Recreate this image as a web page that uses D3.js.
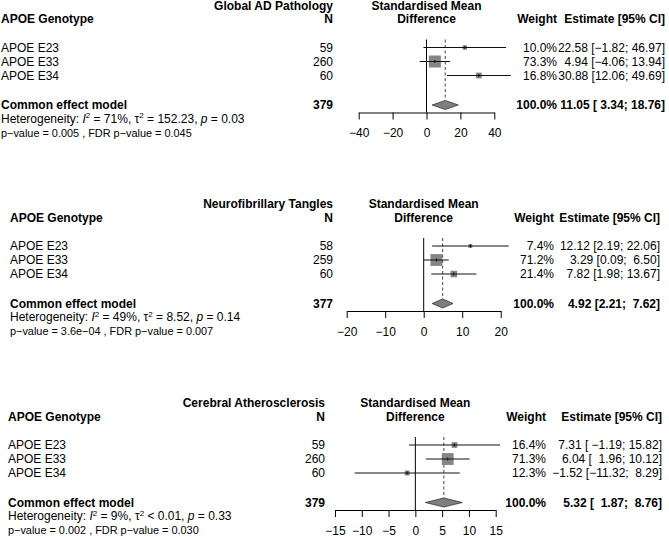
<!DOCTYPE html>
<html><head><meta charset="utf-8">
<script src="https://cdn.jsdelivr.net/npm/d3@7"></script>
<style>
body{margin:0;background:#fff}
text{font-family:"Liberation Sans",Arial,Helvetica,sans-serif;white-space:pre;fill:#000}
</style>
</head><body>
<svg id="chart" width="669" height="537"></svg>
<script>
// ---------- data ----------
const outcomes = ["Global AD Pathology", "Neurofibrillary Tangles", "Cerebral Atherosclerosis"];
const genotypes = ["APOE E23", "APOE E33", "APOE E34"];
const sampleN = [[59, 260, 60], [58, 259, 60], [59, 260, 60]];
const totalN = [379, 377, 379];
const smd = [[22.58, 4.94, 30.88], [12.12, 3.29, 7.82], [7.31, 6.04, -1.52]];
const ciLower = [[-1.82, -4.06, 12.06], [2.19, 0.09, 1.98], [-1.19, 1.96, -11.32]];
const ciUpper = [[46.97, 13.94, 49.69], [22.06, 6.50, 13.67], [15.82, 10.12, 8.29]];
const weights = [[10.0, 73.3, 16.8], [7.4, 71.2, 21.4], [16.4, 71.3, 12.3]];
const pooledSmd = [11.05, 4.92, 5.32];
const pooledLower = [3.34, 2.21, 1.87];
const pooledUpper = [18.76, 7.62, 8.76];
const hetI2 = ["71%", "49%", "9%"];
const hetTau2 = ["= 152.23", "= 8.52", "< 0.01"];
const hetP = ["0.03", "0.14", "0.33"];
const pValues = ["0.005", "3.6e\u221204", "0.002"];
const fdrValues = ["0.045", "0.007", "0.030"];
const tickValues = [[-40, -20, 0, 20, 40], [-20, -10, 0, 10, 20], [-15, -10, -5, 0, 5, 10, 15]];

// ---------- layout (positions only) ----------
const layout = [
  {labelX: 1, nX: 333, weightX: 557, estX: 665, x0: 358.7, x1: 494.3, row0: 51.5},
  {labelX: 10, nX: 333, weightX: 554, estX: 660, x0: 346.7, x1: 500.7, row0: 250},
  {labelX: 8, nX: 325, weightX: 546, estX: 662, x0: 335, x1: 495.7, row0: 449}
];
const FS = 12, FS_HET = 12, FS_P = 10.9, ROW = 14;

const svg = d3.select("#chart");
svg.append("rect").attr("width", 669).attr("height", 537).attr("fill", "#fff");

const fmt = v => (v < 0 ? "\u2212" : "") + Math.abs(v).toFixed(2);
const pad = (s, w) => " ".repeat(Math.max(0, w - s.length)) + s;
const boxSize = d3.scaleSqrt().domain([0, 100]).range([0, 14]);

outcomes.forEach((title, p) => {
  const L = layout[p];
  const g = svg.append("g");
  const ticks = tickValues[p];
  const x = d3.scaleLinear().domain([d3.min(ticks), d3.max(ticks)]).range([L.x0, L.x1]);
  const r0 = L.row0;
  const rowsY = genotypes.map((_, i) => r0 + i * ROW);
  const commonY = r0 + 57.5;
  const axisY = r0 + 61;
  const titleY = r0 - 42, headY = r0 - 28.5;
  const midX = (L.x0 + L.x1) / 2;

  const txt = (str, xx, yy, anchor, isBold, size) => {
    const t = g.append("text").attr("x", xx).attr("y", yy)
      .attr("text-anchor", anchor || "start")
      .attr("font-size", size || FS).text(str);
    if (isBold) t.attr("font-weight", "bold");
    return t;
  };

  // headers
  txt(title, L.nX, titleY, "end", true);
  txt("APOE Genotype", L.labelX, headY, "start", true);
  txt("N", L.nX, headY, "end", true);
  txt("Standardised Mean", midX, titleY, "middle", true);
  txt("Difference", midX, headY, "middle", true);
  txt("Weight", L.weightX, headY, "end", true);
  txt("Estimate [95% CI]", L.estX, headY, "end", true);

  // estimate strings
  const allE = smd[p].concat([pooledSmd[p]]).map(fmt);
  const allLo = ciLower[p].concat([pooledLower[p]]).map(fmt);
  const allHi = ciUpper[p].concat([pooledUpper[p]]).map(fmt);
  const wE = d3.max(allE, s => s.length), wLo = d3.max(allLo, s => s.length), wHi = d3.max(allHi, s => s.length);
  const estStr = i => pad(allE[i], wE) + " [" + pad(allLo[i], wLo) + "; " + pad(allHi[i], wHi) + "]";

  // study rows text
  genotypes.forEach((name, i) => {
    txt(name, L.labelX, rowsY[i], "start", false);
    txt(String(sampleN[p][i]), L.nX, rowsY[i], "end", false);
    txt(weights[p][i].toFixed(1) + "%", L.weightX, rowsY[i], "end", false);
    txt(estStr(i), L.estX, rowsY[i], "end", false);
  });
  // common effect row
  txt("Common effect model", L.labelX, commonY, "start", true);
  txt(String(totalN[p]), L.nX, commonY, "end", true);
  txt("100.0%", L.weightX, commonY, "end", true);
  txt(estStr(3), L.estX, commonY, "end", true);

  // heterogeneity
  const het = g.append("text").attr("x", L.labelX).attr("y", r0 + 71).attr("font-size", FS_HET);
  het.append("tspan").text("Heterogeneity: ");
  het.append("tspan").attr("font-style", "italic").text("I");
  het.append("tspan").attr("font-size", 8).attr("dy", -4.5).text("2");
  het.append("tspan").attr("dy", 4.5).text(" = " + hetI2[p] + ", ");
  het.append("tspan").text("\u03c4");
  het.append("tspan").attr("font-size", 8).attr("dy", -4.5).text("2");
  het.append("tspan").attr("dy", 4.5).text(" " + hetTau2[p] + ", ");
  het.append("tspan").attr("font-style", "italic").text("p");
  het.append("tspan").text(" = " + hetP[p]);
  txt("p\u2212value = " + pValues[p] + " , FDR p\u2212value = " + fdrValues[p], L.labelX, r0 + 85, "start", false, FS_P);

  // plot marks
  const topY = r0 - 12;
  const diamondH = 4.5;
  const cY = commonY - 4;
  g.append("line").attr("x1", x(0)).attr("x2", x(0)).attr("y1", topY).attr("y2", axisY)
    .attr("stroke", "#000").attr("stroke-width", 1);
  g.append("line").attr("x1", x(pooledSmd[p])).attr("x2", x(pooledSmd[p]))
    .attr("y1", topY).attr("y2", cY - diamondH)
    .attr("stroke", "#444").attr("stroke-width", 1).attr("stroke-dasharray", "3,2.5");

  genotypes.forEach((_, i) => {
    const y = rowsY[i] - 4;
    const s = boxSize(weights[p][i]);
    g.append("rect").attr("x", x(smd[p][i]) - s / 2).attr("y", y - s / 2)
      .attr("width", s).attr("height", s).attr("fill", "#858585");
    g.append("line").attr("x1", x(ciLower[p][i])).attr("x2", x(ciUpper[p][i]))
      .attr("y1", y).attr("y2", y).attr("stroke", "#111").attr("stroke-width", 1);
    g.append("line").attr("x1", x(smd[p][i])).attr("x2", x(smd[p][i]))
      .attr("y1", y - 1.5).attr("y2", y + 1.5).attr("stroke", "#111").attr("stroke-width", 1);
  });

  const dPts = [[x(pooledLower[p]), cY], [x(pooledSmd[p]), cY - diamondH], [x(pooledUpper[p]), cY], [x(pooledSmd[p]), cY + diamondH]];
  g.append("path").attr("d", d3.line()(dPts) + "Z").attr("fill", "#7f7f7f").attr("stroke", "#333").attr("stroke-width", 0.8);

  // axis
  const ax = g.append("g").attr("transform", `translate(0,${axisY})`)
    .call(d3.axisBottom(x).tickValues(ticks).tickSize(7).tickSizeOuter(0).tickPadding(9));
  ax.selectAll("path, line").attr("stroke", "#000");
  ax.selectAll("text").attr("font-size", FS).attr("font-family", "Liberation Sans, Arial, sans-serif").attr("fill", "#000");
});
</script>
</body></html>
